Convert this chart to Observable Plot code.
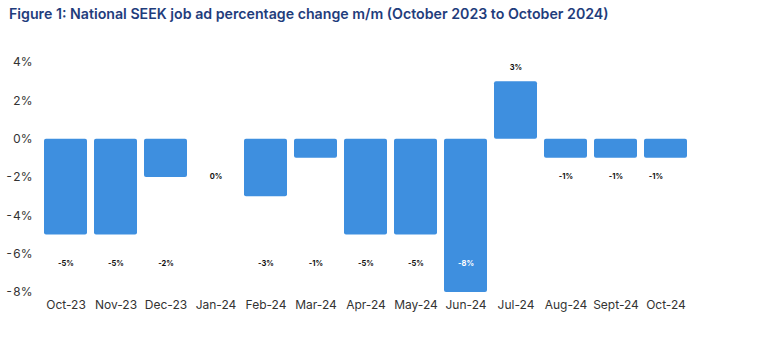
<!DOCTYPE html>
<html>
<head>
<meta charset="utf-8">
<script src="https://cdn.jsdelivr.net/npm/d3@7"></script>
<script src="https://cdn.jsdelivr.net/npm/@observablehq/plot@0.6"></script>
<style>
  body { margin: 0; background: #fff; font-family: Inter, "Open Sans", sans-serif; }
  #title { height: 28px; box-sizing: border-box; padding: 5px 0 0 9px; font-size: 14.2px; font-weight: 600; color: #1f3d7c; white-space: nowrap; }
</style>
</head>
<body>
<div id="title">Figure 1: National SEEK job ad percentage change m/m (October 2023 to October 2024)</div>
<div id="chart"></div>
<script>
const months = ["Oct-23","Nov-23","Dec-23","Jan-24","Feb-24","Mar-24","Apr-24","May-24","Jun-24","Jul-24","Aug-24","Sept-24","Oct-24"];
const changes = [-5,-5,-2,0,-3,-1,-5,-5,-8,3,-1,-1,-1];
const labelAt = [-6.5,-6.5,-6.5,-1.95,-6.5,-6.5,-6.5,-6.5,-6.5,3.75,-1.95,-1.95,-1.95];
const yTicks = [4,2,0,-2,-4,-6,-8];

const data = months.map((m, i) => ({month: m, value: changes[i], at: labelAt[i]}));
const fmt = d => `${d}%`;

const chart = Plot.plot({
  width: 757,
  height: 315,
  marginTop: 34,
  marginBottom: 51,
  marginLeft: 37,
  marginRight: 63,
  style: {fontFamily: "Inter, 'Open Sans', sans-serif", color: "#333", background: "#fff"},
  x: {domain: months, padding: 0.14, label: null, tickSize: 0, tickPadding: 8},
  y: {domain: [-8, 4], ticks: yTicks, tickFormat: fmt, label: null, tickSize: 0, tickPadding: 5},
  marks: [
    Plot.barY(data, {x: "month", y: "value", fill: "#3e8fdf", rx: 2}),
    Plot.text(data.filter((d, i) => i < 12), {x: "month", y: "at", text: d => fmt(d.value),
      fill: d => d.value === -8 ? "#fff" : "#111", fontWeight: 700, fontSize: 7.5}),
    Plot.text(data.filter((d, i) => i === 12), {x: "month", y: "at", text: d => fmt(d.value),
      fill: "#111", fontWeight: 700, fontSize: 7.5, dx: -10})
  ]
});
chart.querySelectorAll('[aria-label="x-axis tick label"] text, [aria-label="y-axis tick label"] text').forEach(t => t.style.fontSize = "12px");
document.getElementById("chart").appendChild(chart);
</script>
</body>
</html>
